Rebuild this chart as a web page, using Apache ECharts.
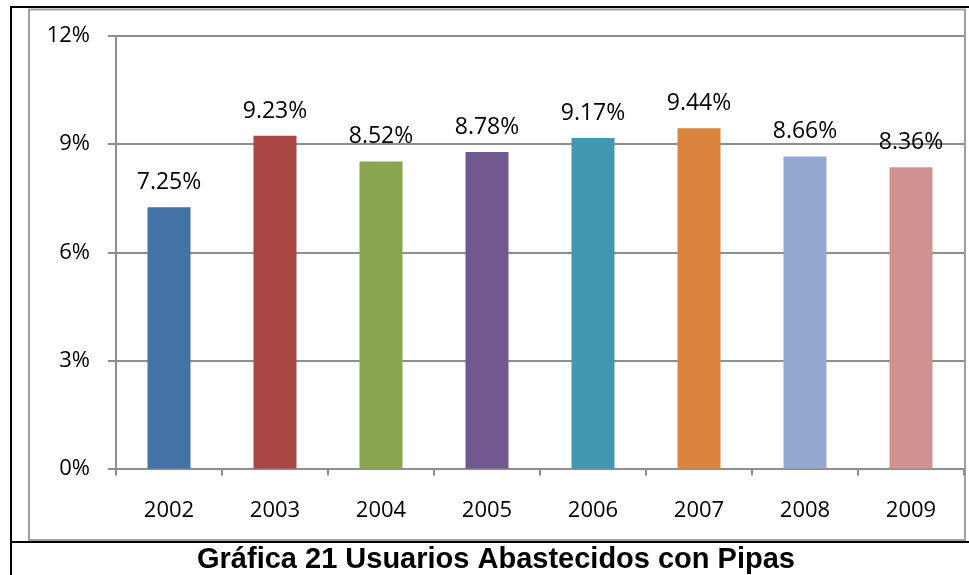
<!DOCTYPE html>
<html>
<head>
<meta charset="utf-8">
<title>Gráfica 21 Usuarios Abastecidos con Pipas</title>
<script src="https://cdn.jsdelivr.net/npm/echarts@6/dist/echarts.min.js"></script>
<style>
  html, body { margin: 0; padding: 0; background: #fff; }
  #chart { width: 969px; height: 575px; }
</style>
</head>
<body>
<div id="chart"></div>
<script>
// datos
const years = ['2002', '2003', '2004', '2005', '2006', '2007', '2008', '2009']
const usuariosPipas = [7.25, 9.23, 8.52, 8.78, 9.17, 9.44, 8.66, 8.36]
const yTicks = [0, 3, 6, 9, 12]

// colores por barra (paleta de Excel 2007)
const barColors = ['#4572A7', '#AA4643', '#89A54E', '#71588F', '#4198AF', '#DB843D', '#93A9CF', '#D19392']

const chart = echarts.init(document.getElementById('chart'))

const gray = '#8e8e8e'

const option = {
  animation: false,
  grid: {
    left: 116,
    right: 5,
    top: 36,
    bottom: 106.5
  },
  xAxis: {
    type: 'category',
    data: years,
    axisLine: { lineStyle: { color: gray, width: 2 } },
    axisTick: { show: true, length: 7, lineStyle: { color: gray, width: 2 } },
    axisLabel: {
      color: '#000',
      fontFamily: 'Open Sans',
      fontSize: 22,
      margin: 31
    }
  },
  yAxis: {
    type: 'value',
    min: yTicks[0],
    max: yTicks[yTicks.length - 1],
    interval: yTicks[1] - yTicks[0],
    axisLine: { show: true, lineStyle: { color: gray, width: 2 } },
    axisTick: { show: true, length: 8, lineStyle: { color: gray, width: 2 } },
    splitLine: { lineStyle: { color: gray, width: 2 } },
    axisLabel: {
      formatter: '{value}%',
      color: '#000',
      fontFamily: 'Open Sans',
      fontSize: 22,
      margin: 26
    }
  },
  series: [
    {
      type: 'bar',
      barWidth: 43,
      data: usuariosPipas.map((v, i) => ({
        value: v,
        itemStyle: { color: barColors[i] }
      })),
      label: {
        show: true,
        position: 'top',
        distance: 13,
        color: '#000',
        fontFamily: 'Open Sans',
        fontSize: 23,
        formatter: p => p.value.toFixed(2) + '%'
      }
    }
  ],
  graphic: [
    // marco gris del área de la gráfica
    {
      type: 'rect',
      shape: { x: 29, y: 9.5, width: 936, height: 530.5 },
      style: { fill: 'none', stroke: '#a0a0a0', lineWidth: 2 },
      silent: true
    },
    // bordes negros de la tabla
    {
      type: 'polyline',
      shape: { points: [[11, 575], [11, 7], [969, 7]] },
      style: { fill: 'none', stroke: '#000', lineWidth: 2 },
      silent: true
    },
    {
      type: 'line',
      shape: { x1: 11, y1: 542, x2: 969, y2: 542 },
      style: { stroke: '#000', lineWidth: 2 },
      silent: true
    },
    {
      type: 'text',
      x: 496,
      y: 560,
      style: {
        text: 'Gráfica 21 Usuarios Abastecidos con Pipas',
        fill: '#000',
        align: 'center',
        verticalAlign: 'middle',
        font: 'bold 29px "Liberation Sans", Arial, sans-serif'
      }
    }
  ]
}

chart.setOption(option)
window.addEventListener('resize', () => chart.resize())
</script>
</body>
</html>
